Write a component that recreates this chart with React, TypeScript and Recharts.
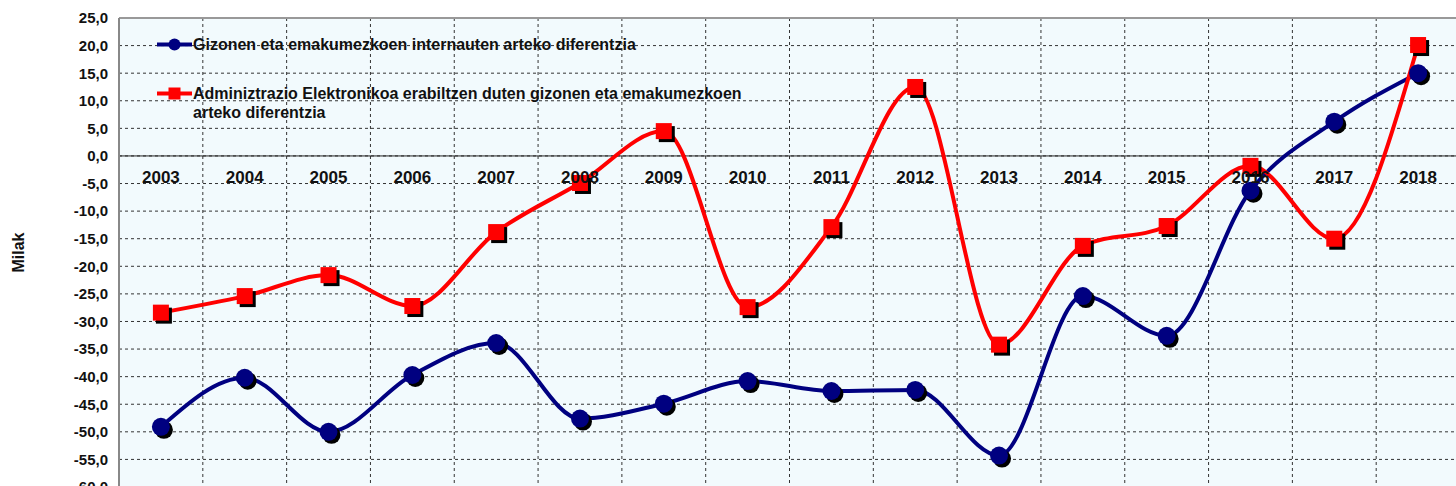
import { CartesianGrid, Legend, Line, LineChart, ReferenceLine, XAxis, YAxis } from "recharts";

const years = ["2003", "2004", "2005", "2006", "2007", "2008", "2009", "2010", "2011", "2012", "2013", "2014", "2015", "2016", "2017", "2018"];
const internautak = [-49.1, -40.2, -50.0, -39.7, -33.9, -47.6, -44.9, -40.8, -42.6, -42.4, -54.3, -25.4, -32.6, -6.3, 6.2, 15.0];
const adminElektronikoa = [-28.4, -25.4, -21.6, -27.2, -13.8, -4.9, 4.5, -27.4, -12.9, 12.5, -34.2, -16.3, -12.7, -1.8, -15.0, 20.1];
const yTicks = [-60, -55, -50, -45, -40, -35, -30, -25, -20, -15, -10, -5, 0, 5, 10, 15, 20, 25];

const seriesNames = [
  "Gizonen eta emakumezkoen internauten arteko diferentzia",
  "Adminiztrazio Elektronikoa erabiltzen duten gizonen eta emakumezkoen arteko diferentzia",
];

const data = years.map((year, i) => ({
  year,
  internautak: internautak[i],
  admin: adminElektronikoa[i],
}));

const W = 1470;
const H = 500;
const MARGIN = { top: 18, right: 10, bottom: 12, left: 0 };
const X_AXIS_H = 1;
const Y_MIN = -60;
const Y_MAX = 25;
const plotH = H - MARGIN.top - MARGIN.bottom - X_AXIS_H;
const zeroY = MARGIN.top + (plotH * Y_MAX) / (Y_MAX - Y_MIN);

const FONT = "'Liberation Sans', Arial, sans-serif";

function fmt(v: number): string {
  return v.toFixed(1).replace(".", ",");
}

function renderYearTick(props: any) {
  const { x, payload, index } = props;
  return (
    <text key={`yt-${index}`} x={x} y={zeroY + 27} textAnchor="middle" fontFamily={FONT} fontWeight="bold" fontSize={17} fill="#111">
      {payload.value}
    </text>
  );
}

function CircleDot(props: any) {
  const { cx, cy } = props;
  if (cx == null || cy == null) return null;
  return (
    <g>
      <circle cx={cx + 3} cy={cy + 3} r={9} fill="#000" />
      <circle cx={cx} cy={cy} r={9} fill="#000080" />
    </g>
  );
}

function SquareDot(props: any) {
  const { cx, cy } = props;
  if (cx == null || cy == null) return null;
  return (
    <g>
      <rect x={cx - 8 + 3} y={cy - 8 + 3} width={16} height={16} fill="#000" />
      <rect x={cx - 8} y={cy - 8} width={16} height={16} fill="#FF0000" />
    </g>
  );
}

function LegendBox() {
  const textStyle = {
    fontFamily: FONT,
    fontWeight: "bold" as const,
    fontSize: 16,
    color: "#111",
    lineHeight: "19px",
  };
  return (
    <div style={{ width: 640 }}>
      <div style={{ display: "flex", alignItems: "flex-start" }}>
        <svg width={35} height={19} style={{ flexShrink: 0, marginRight: 1 }}>
          <line x1={0} y1={9.5} x2={35} y2={9.5} stroke="#000080" strokeWidth={4} />
          <circle cx={17.5} cy={9.5} r={6} fill="#000080" />
        </svg>
        <span style={textStyle}>{seriesNames[0]}</span>
      </div>
      <div style={{ display: "flex", alignItems: "flex-start", marginTop: 30 }}>
        <svg width={35} height={19} style={{ flexShrink: 0, marginRight: 1 }}>
          <line x1={0} y1={9.5} x2={35} y2={9.5} stroke="#FF0000" strokeWidth={4} />
          <rect x={11.5} y={3.5} width={12} height={12} fill="#FF0000" />
        </svg>
        <span style={{ ...textStyle, width: 575 }}>{seriesNames[1]}</span>
      </div>
    </div>
  );
}

export default function App() {
  return (
    <div style={{ position: "absolute", left: 0, top: 0, width: 1456, height: 486, overflow: "hidden", background: "#fff" }}>
      <LineChart width={W} height={H} data={data} margin={MARGIN}>
        <CartesianGrid
          stroke="#333"
          strokeDasharray="3 3"
          fill="#F2FAFD"
          fillOpacity={1}
          verticalCoordinatesGenerator={({ offset }: any) =>
            years.slice(1).map((_, i) => offset.left + ((i + 1) * offset.width) / years.length)
          }
        />
        <XAxis
          dataKey="year"
          scale="band"
          height={X_AXIS_H}
          axisLine={false}
          tickLine={false}
          interval={0}
          tick={renderYearTick}
        />
        <YAxis
          width={119}
          domain={[Y_MIN, Y_MAX]}
          ticks={yTicks}
          interval={0}
          tickFormatter={fmt}
          tickLine={false}
          tickSize={0}
          tickMargin={11}
          axisLine={{ stroke: "#888", strokeWidth: 2 }}
          tick={{ fontFamily: FONT, fontWeight: "bold", fontSize: 15, fill: "#111" }}
          label={{
            value: "Milak",
            angle: -90,
            position: "insideLeft",
            offset: 18,
            style: { fontFamily: FONT, fontWeight: "bold", fontSize: 16, fill: "#111", textAnchor: "middle" },
          }}
        />
        <ReferenceLine y={Y_MAX} stroke="#999" strokeWidth={2} />
        <ReferenceLine y={0} stroke="#222" strokeWidth={1} />
        <Legend
          verticalAlign="middle"
          align="center"
          layout="horizontal"
          content={<LegendBox />}
          wrapperStyle={{ position: "absolute", left: 157, top: 35, width: 640 }}
        />
        <Line
          type="monotone"
          dataKey="internautak"
          name={seriesNames[0]}
          stroke="#000080"
          strokeWidth={4}
          dot={<CircleDot />}
          activeDot={false}
          isAnimationActive={false}
        />
        <Line
          type="monotone"
          dataKey="admin"
          name={seriesNames[1]}
          stroke="#FF0000"
          strokeWidth={4}
          dot={<SquareDot />}
          activeDot={false}
          isAnimationActive={false}
        />
      </LineChart>
    </div>
  );
}
